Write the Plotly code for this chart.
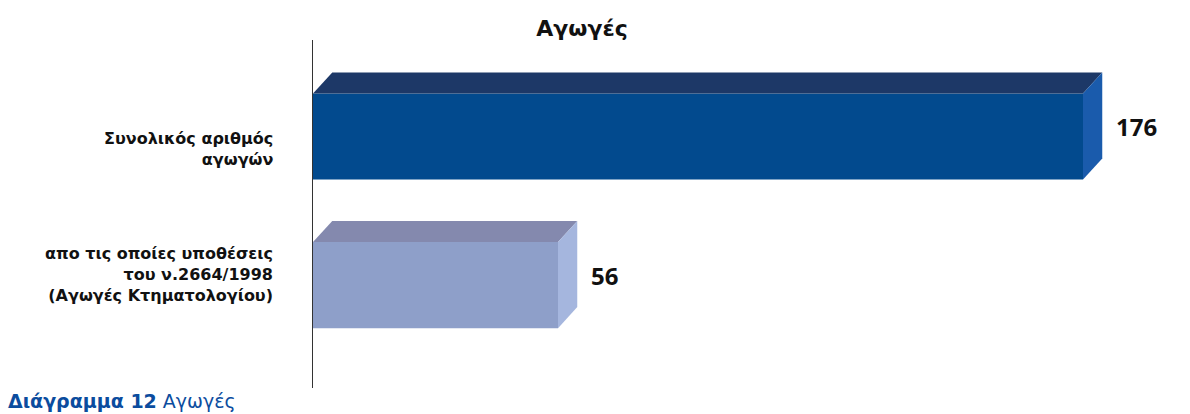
import plotly.graph_objects as go

categories = ["Συνολικός αριθμός<br>αγωγών",
              "απο τις οποίες υποθέσεις<br>του ν.2664/1998<br>(Αγωγές Κτηματολογίου)"]
values = [176, 56]
positions = [1, 0]
front_colors = ["#024A8E", "#8E9FC9"]
top_colors = ["#1D3867", "#8489AE"]
side_colors = ["#1A5BAC", "#A5B6DE"]

FONT = "DejaVu Sans"
NUM_FONT = "Noto Sans"
half = 0.29
dx = 4.4    # depth in x data units
dy = 0.142  # depth in y data units

fig = go.Figure()

for v, p, fc, tc, sc in zip(values, positions, front_colors, top_colors, side_colors):
    fig.add_trace(go.Bar(x=[v], y=[p], orientation="h", width=2 * half,
                         marker=dict(color=fc, line=dict(width=0)),
                         hoverinfo="x", showlegend=False))
    # top face
    fig.add_trace(go.Scatter(x=[0, dx, v + dx, v, 0],
                             y=[p + half, p + half + dy, p + half + dy, p + half, p + half],
                             fill="toself", fillcolor=tc, mode="lines",
                             line=dict(width=0, color=tc), hoverinfo="skip", showlegend=False))
    # side face
    fig.add_trace(go.Scatter(x=[v, v + dx, v + dx, v, v],
                             y=[p + half, p + half + dy, p - half + dy, p - half, p + half],
                             fill="toself", fillcolor=sc, mode="lines",
                             line=dict(width=0, color=sc), hoverinfo="skip", showlegend=False))

# value labels
for v, p in zip(values, positions):
    fig.add_annotation(x=v, y=p, text=str(v), showarrow=False, xanchor="left",
                       xshift=dx * 4.375 + 12, yshift=10,
                       font=dict(family=NUM_FONT, size=24, color="#111111", weight="bold"))

# category labels
label_shift = [-12, 11]
for c, p, s in zip(categories, positions, label_shift):
    fig.add_annotation(x=0, y=p, xref="paper", text=c, showarrow=False,
                       xanchor="right", align="right", xshift=-38, yshift=s,
                       font=dict(family=FONT, size=16, color="#111111", weight="bold"))

# caption
fig.add_annotation(xref="paper", yref="paper", x=-313 / 875, y=0, xanchor="left", yanchor="middle",
                   xshift=6, yshift=-13,
                   text="<b>Διάγραμμα 12</b> Αγωγές", showarrow=False,
                   font=dict(family=FONT, size=19, color="#0B4C9E"))

fig.update_layout(
    width=1190, height=414,
    margin=dict(l=313, r=2, t=40, b=26),
    paper_bgcolor="white", plot_bgcolor="white",
    title=dict(text="Αγωγές", x=582 / 1190, xref="container", xanchor="center",
               y=1 - 28 / 414, yref="container", yanchor="middle",
               font=dict(family=FONT, size=22, color="#111111", weight="bold")),
    xaxis=dict(range=[0, 200], visible=False, fixedrange=True),
    yaxis=dict(range=[-0.693, 1.65], showline=True, linecolor="#333333", linewidth=1,
               showticklabels=False, showgrid=False, zeroline=False, ticks="",
               fixedrange=True),
    barmode="overlay",
)

fig.write_html("out.html", config={"displayModeBar": False},
               post_script="document.body.style.margin='0';")
